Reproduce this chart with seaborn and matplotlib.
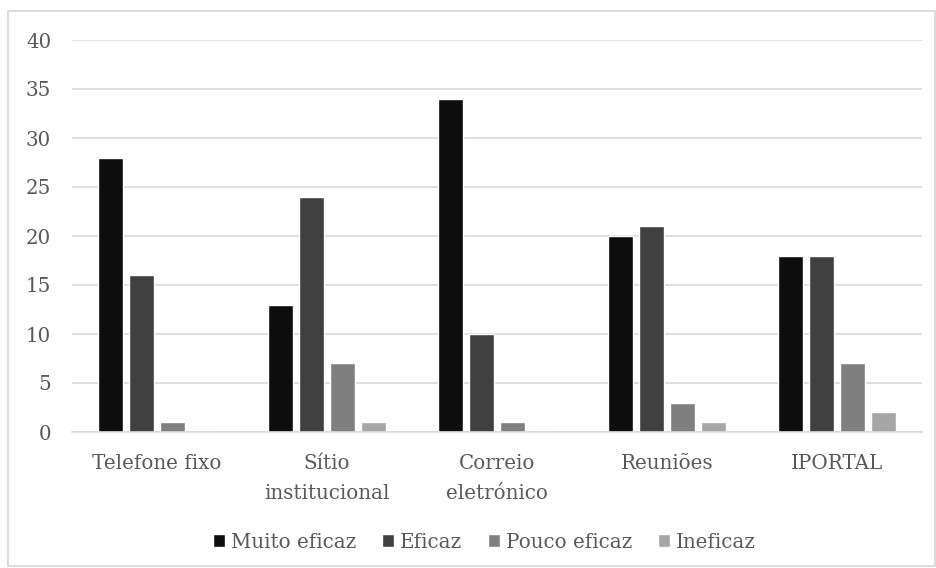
import matplotlib
matplotlib.use("Agg")
import matplotlib.pyplot as plt
import matplotlib.patches as mpatches
import pandas as pd
import seaborn as sns

canais = ["Telefone fixo", "Sítio\ninstitucional", "Correio\neletrónico", "Reuniões", "IPORTAL"]
avaliacoes = ["Muito eficaz", "Eficaz", "Pouco eficaz", "Ineficaz"]
muito_eficaz = [28, 13, 34, 20, 18]
eficaz = [16, 24, 10, 21, 18]
pouco_eficaz = [1, 7, 1, 3, 7]
ineficaz = [0, 1, 0, 1, 2]
cores = ["#0d0d0d", "#404040", "#7f7f7f", "#a6a6a6"]
yticks = [0, 5, 10, 15, 20, 25, 30, 35, 40]

series = [muito_eficaz, eficaz, pouco_eficaz, ineficaz]
rows = []
for nome, vals in zip(avaliacoes, series):
    for canal, v in zip(canais, vals):
        rows.append({"canal": canal, "avaliacao": nome, "n": v})
df = pd.DataFrame(rows)

sns.set_style("white")
plt.rcParams["font.family"] = ["DejaVu Serif"]
texto = "#595959"
grelha = "#d9d9d9"
tam = 14.3

fig = plt.figure(figsize=(9.37, 5.68), dpi=100)
ax = fig.add_axes([72 / 937, 1 - 432 / 568, 850 / 937, 392 / 568])

sns.barplot(data=df, x="canal", y="n", hue="avaliacao", hue_order=avaliacoes,
            order=canais, palette=cores, width=0.73, gap=0.22, ax=ax,
            saturation=1, errorbar=None, legend=True)

ax.set_ylim(0, 40)
ax.set_xlim(-0.5, len(canais) - 0.5)
ax.set_yticks(yticks)
ax.yaxis.grid(True, color=grelha, linewidth=1.2)
ax.set_axisbelow(True)
for s in ["left", "right", "top"]:
    ax.spines[s].set_visible(False)
ax.spines["bottom"].set_color(grelha)
ax.spines["bottom"].set_linewidth(1.2)
ax.tick_params(axis="both", length=0, colors=texto, labelsize=tam)
ax.tick_params(axis="y", pad=15)
ax.tick_params(axis="x", pad=16)
for lab in ax.get_xticklabels():
    lab.set_linespacing(1.7)
ax.set_xlabel("")
ax.set_ylabel("")

handles, labels = ax.get_legend_handles_labels()
ax.get_legend().remove()
fig.legend(handles, labels, loc="center", bbox_to_anchor=(0.517, 1 - 542 / 568),
           ncol=4, frameon=False, fontsize=tam, labelcolor=texto,
           handlelength=0.6, handleheight=0.6, handletextpad=0.3, columnspacing=1.3)

fig.patches.append(mpatches.Rectangle((8 / 937, 2 / 568), 927 / 937, 555 / 568,
                                      transform=fig.transFigure, fill=False,
                                      edgecolor=grelha, linewidth=1.3))

fig.savefig("out.png", dpi=100)
